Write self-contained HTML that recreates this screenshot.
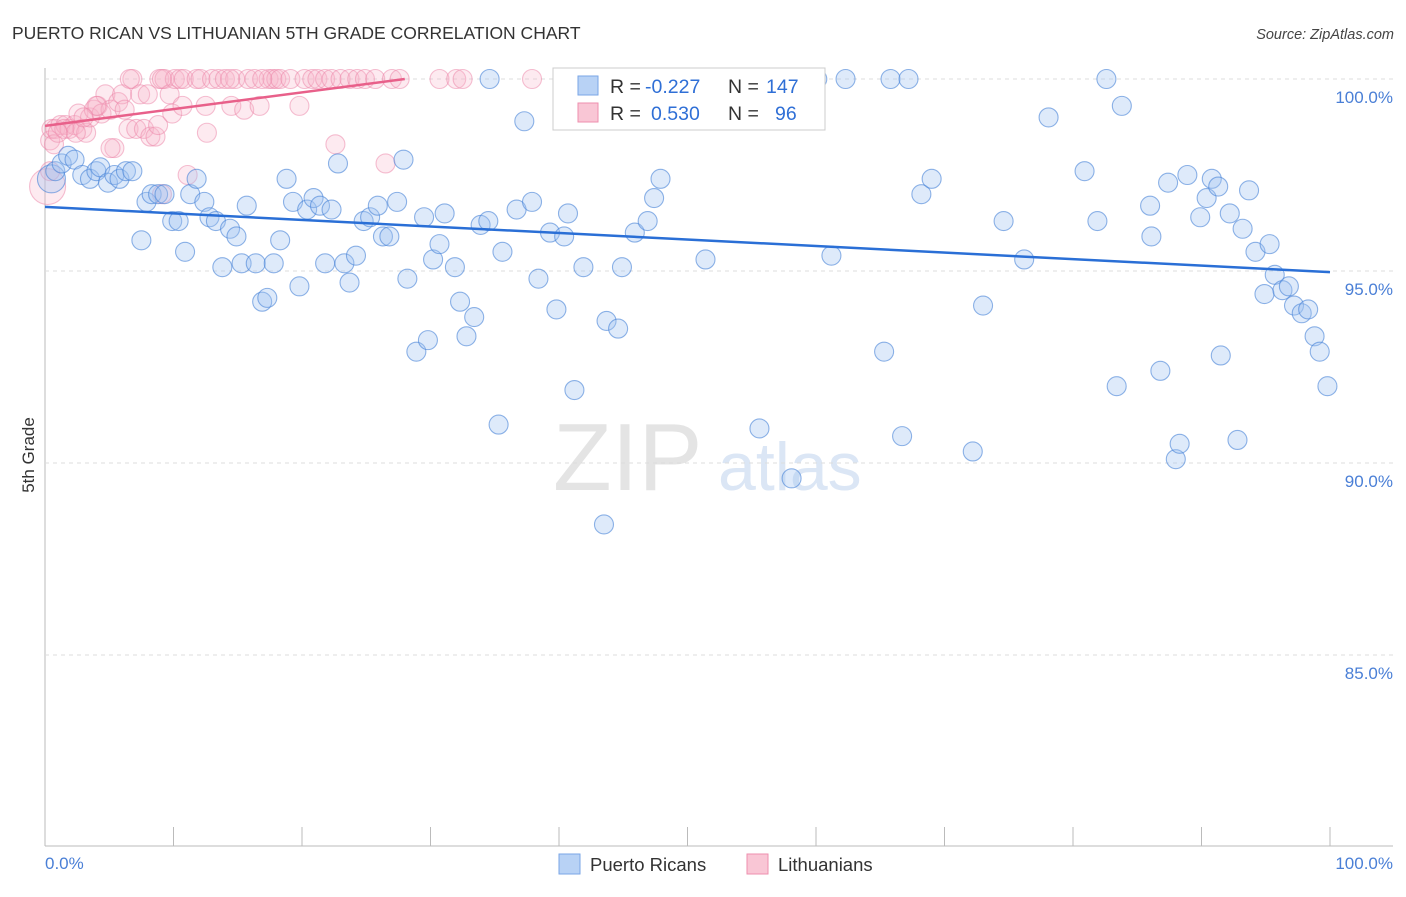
<!DOCTYPE html>
<html><head><meta charset="utf-8"><style>
body{margin:0;background:#fff;font-family:"Liberation Sans",sans-serif;}
svg text{font-family:"Liberation Sans",sans-serif;}
</style></head><body>
<svg id="c" width="1406" height="892" xmlns="http://www.w3.org/2000/svg">
<text x="12" y="39" font-size="17.5" fill="#333">PUERTO RICAN VS LITHUANIAN 5TH GRADE CORRELATION CHART</text>
<text x="1394" y="39" font-size="14.5" fill="#444" font-style="italic" text-anchor="end">Source: ZipAtlas.com</text>
<text x="553" y="490" font-size="96" fill="#e4e4e4" font-family="Liberation Serif">ZIP</text>
<text x="718" y="490" font-size="68" fill="#dbe6f5">atlas</text>
<g id="grid"></g><g id="pts"></g><g id="lines"></g>
<text transform="translate(34,455) rotate(-90)" font-size="17" fill="#333" text-anchor="middle">5th Grade</text>
<text x="45" y="869" font-size="17" fill="#4a7fd6">0.0%</text>
<text x="1393" y="869" font-size="17" fill="#4a7fd6" text-anchor="end">100.0%</text>
<g>
<rect x="553" y="68" width="272" height="62" fill="#fff" stroke="#ccc"/>
<rect x="578" y="76" width="20" height="19" fill="#b8d2f5" stroke="#7aa6e6"/>
<rect x="578" y="103" width="20" height="19" fill="#f9c6d5" stroke="#ee8fae"/>
<text x="610" y="93" font-size="19.5" fill="#333">R = </text><text x="645" y="93" font-size="19.5" fill="#2f6fd6">-0.227</text>
<text x="728" y="93" font-size="19.5" fill="#333">N = </text><text x="766" y="93" font-size="19.5" fill="#2f6fd6">147</text>
<text x="610" y="120" font-size="19.5" fill="#333">R = </text><text x="651" y="120" font-size="19.5" fill="#2f6fd6">0.530</text>
<text x="728" y="120" font-size="19.5" fill="#333">N = </text><text x="775" y="120" font-size="19.5" fill="#2f6fd6">96</text>
</g>
<g>
<rect x="559" y="854" width="21" height="20" fill="#b8d2f5" stroke="#7aa6e6"/>
<text x="590" y="871" font-size="18.5" fill="#333">Puerto Ricans</text>
<rect x="747" y="854" width="21" height="20" fill="#f9c6d5" stroke="#ee8fae"/>
<text x="778" y="871" font-size="18.5" fill="#333">Lithuanians</text>
</g>
</svg>
<script>
const blueX=[0.5,0.8,1.3,1.8,2.3,2.9,3.5,4.0,4.3,4.9,5.4,5.8,6.3,6.8,7.5,7.9,8.3,8.8,9.3,9.9,10.4,10.9,11.3,11.8,12.4,12.8,13.3,13.8,14.4,14.9,15.3,15.7,16.4,16.9,17.3,17.8,18.3,18.8,19.3,19.8,20.4,20.9,21.4,21.8,22.3,22.8,23.3,23.7,24.2,24.8,25.3,25.9,26.3,26.8,27.4,27.9,28.2,28.9,29.5,29.8,30.2,30.7,31.1,31.9,32.3,32.8,33.4,33.9,34.5,34.6,35.3,35.6,36.7,37.3,37.9,38.4,39.3,39.8,40.4,40.7,41.2,41.9,43.5,43.7,44.6,44.9,45.9,46.7,46.9,47.4,47.9,49.1,51.4,53.5,55.6,58.1,59.6,60.1,61.2,62.3,65.3,65.8,66.7,67.2,68.2,69.0,72.2,73.0,74.6,76.2,78.1,80.9,81.9,82.6,83.4,83.8,86.0,86.1,86.8,87.4,88.0,88.3,88.9,89.9,90.4,90.8,91.3,91.5,92.2,92.8,93.2,93.7,94.2,94.9,95.3,95.7,96.3,96.8,97.2,97.8,98.3,98.8,99.2,99.8];
const blueY=[97.4,97.6,97.8,98.0,97.9,97.5,97.4,97.6,97.7,97.3,97.5,97.4,97.6,97.6,95.8,96.8,97.0,97.0,97.0,96.3,96.3,95.5,97.0,97.4,96.8,96.4,96.3,95.1,96.1,95.9,95.2,96.7,95.2,94.2,94.3,95.2,95.8,97.4,96.8,94.6,96.6,96.9,96.7,95.2,96.6,97.8,95.2,94.7,95.4,96.3,96.4,96.7,95.9,95.9,96.8,97.9,94.8,92.9,96.4,93.2,95.3,95.7,96.5,95.1,94.2,93.3,93.8,96.2,96.3,100.0,91.0,95.5,96.6,98.9,96.8,94.8,96.0,94.0,95.9,96.5,91.9,95.1,88.4,93.7,93.5,95.1,96.0,99.8,96.3,96.9,97.4,100.0,95.3,100.0,90.9,89.6,100.0,100.0,95.4,100.0,92.9,100.0,90.7,100.0,97.0,97.4,90.3,94.1,96.3,95.3,99.0,97.6,96.3,100.0,92.0,99.3,96.7,95.9,92.4,97.3,90.1,90.5,97.5,96.4,96.9,97.4,97.2,92.8,96.5,90.6,96.1,97.1,95.5,94.4,95.7,94.9,94.5,94.6,94.1,93.9,94.0,93.3,92.9,92.0];
const pinkX=[0.4,0.5,0.8,1.2,1.6,1.9,2.3,2.6,2.9,3.2,3.5,3.8,4.1,4.4,4.7,5.1,5.4,5.7,6.0,6.2,6.5,6.8,7.1,7.4,7.7,8.0,8.2,8.6,8.8,8.9,9.1,9.3,9.7,9.9,10.1,10.5,10.7,10.8,11.1,11.8,12.1,12.5,12.6,13.0,13.5,14.0,14.5,14.8,15.5,15.8,16.3,16.7,17.4,17.7,18.0,18.3,19.1,19.8,20.2,20.8,21.2,21.8,22.3,22.6,23.0,23.7,24.3,24.9,25.7,26.5,27.0,27.6,30.7,32.0,32.5,37.9,0.2,0.4,0.7,1.5,2.4,4.0,1.0,3.0,5.1,6.6,9.1,14.4,16.9];
const pinkY=[98.4,98.7,98.7,98.8,98.8,98.7,98.8,99.1,98.7,98.6,99.0,99.2,99.3,99.1,99.6,99.2,98.2,99.4,99.6,99.2,98.7,100,98.7,99.6,98.7,99.6,98.5,98.5,98.8,100,97.0,100,99.6,99.1,100,100,99.3,100,97.5,100,100,99.3,98.6,100,100,100,99.3,100,99.2,100,100,99.3,100,100,100,100,100,99.3,100,100,100,100,100,98.3,100,100,100,100,100,97.8,100,100,100,100,100,100,97.2,97.6,98.3,98.7,98.6,99.3,98.6,99.0,98.2,100,100,100,100];
const blueTrend=[[0,96.67],[100,94.97]];
const pinkTrend=[[0,98.78],[28,100]];
const yTicks=[100,95,90,85];
const yTickLabels=["100.0%","95.0%","90.0%","85.0%"];
const xTicks=[0,10,20,30,40,50,60,70,80,90,100];
const X=v=>45+v*12.85, Y=v=>79+(100-v)*38.4;
const NS="http://www.w3.org/2000/svg";
function mk(t,a,p){const e=document.createElementNS(NS,t);for(const k in a)e.setAttribute(k,a[k]);p.appendChild(e);return e;}
const g=document.getElementById('grid');
let ax=mk('line',{x1:45,y1:68,x2:45,y2:846,stroke:'#bbb'},g);


let bx=mk('line',{x1:45,y1:846,x2:1393,y2:846,stroke:'#bbb'},g);


yTicks.forEach((t,i)=>{
 const l=mk('line',{x1:45,y1:Y(t),x2:1393,y2:Y(t),stroke:'#ddd','stroke-dasharray':'4,4'},g);
 
 
 const tx=mk('text',{x:1393,y:Y(t)+24,'font-size':17,fill:'#4a7fd6','text-anchor':'end'},g);
 tx.textContent=yTickLabels[i];
 
 
});
xTicks.forEach(t=>{
 const l=mk('line',{x1:X(t),y1:827,x2:X(t),y2:846,stroke:'#bbb'},g);
 
 
});
const p=document.getElementById('pts');
pinkX.forEach((v,i)=>{
 const r=(i===pinkX.length-13)?18:9.5;
 const c=mk('circle',{cx:X(v),cy:Y(pinkY[i]),r:r,fill:'rgba(248,180,202,0.28)',stroke:'rgba(236,130,165,0.5)','stroke-width':1.1},p);
 
 
});
blueX.forEach((v,i)=>{
 const r=i===0?14:9.5;
 const c=mk('circle',{cx:X(v),cy:Y(blueY[i]),r:r,fill:'rgba(160,196,240,0.35)',stroke:'rgba(70,130,215,0.6)','stroke-width':1.1},p);
 
 
});
const L=document.getElementById('lines');
let bl=mk('line',{x1:X(blueTrend[0][0]),y1:Y(blueTrend[0][1]),x2:X(blueTrend[1][0]),y2:Y(blueTrend[1][1]),stroke:'#2a6fd6','stroke-width':2.5},L);


let pl=mk('line',{x1:X(pinkTrend[0][0]),y1:Y(pinkTrend[0][1]),x2:X(pinkTrend[1][0]),y2:Y(pinkTrend[1][1]),stroke:'#e8608a','stroke-width':2.5},L);


</script>
</body></html>
